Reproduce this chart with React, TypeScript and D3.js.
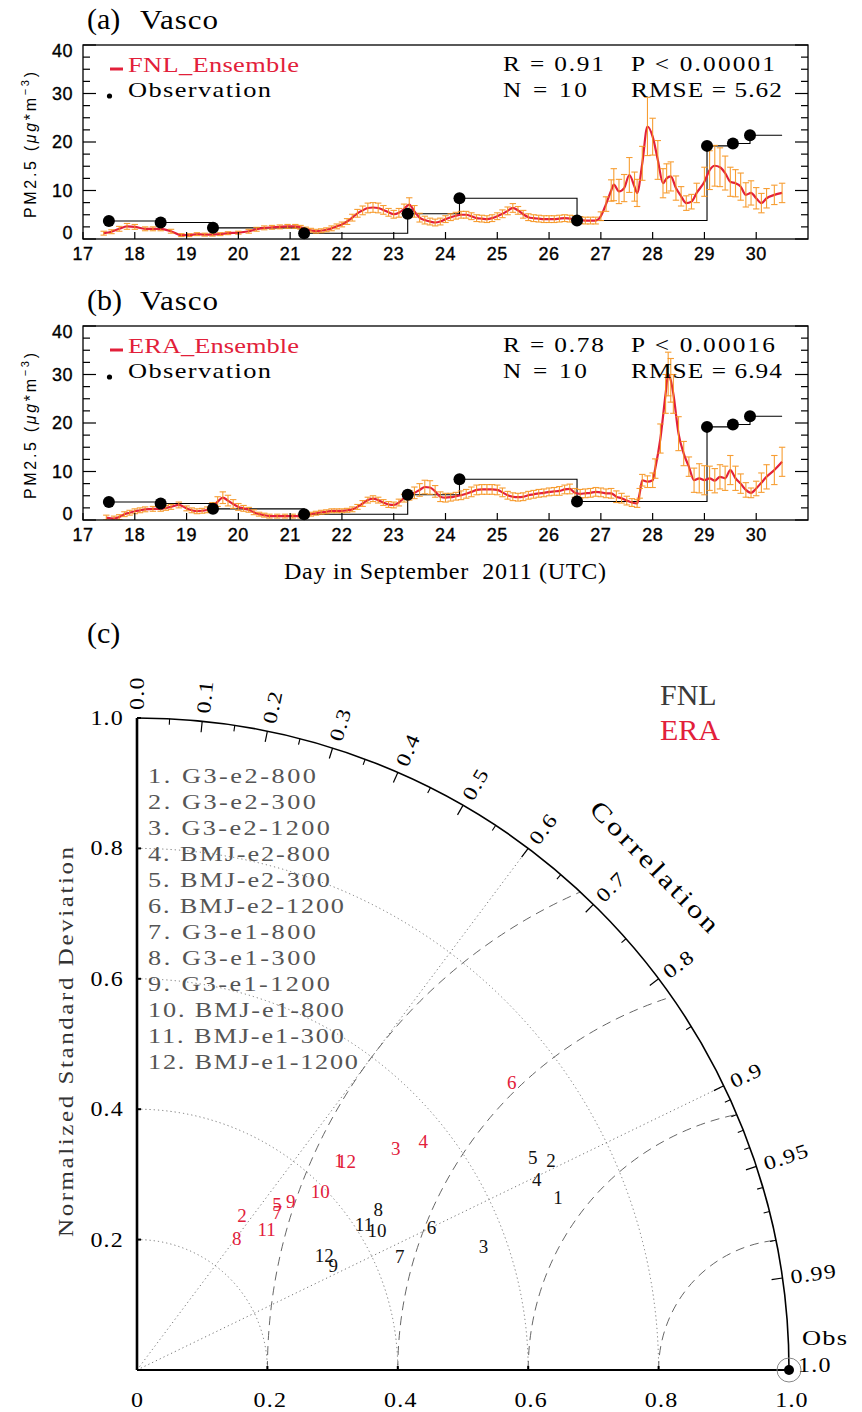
import React from "react";
import * as d3 from "d3";

// ---------------- Data: time series ----------------
const obsDays = [17.5, 18.5, 19.51, 21.27, 23.27, 24.27, 26.54, 29.05, 29.55, 29.88];
const obsValues = [3.7, 3.4, 2.3, 1.2, 5.2, 8.4, 3.8, 19.2, 19.7, 21.4];
const obsEndDay = 30.5;

const fnlDays = [17.4, 17.55, 17.7, 17.85, 18.0, 18.2, 18.35, 18.5, 18.7, 18.9, 19.05, 19.2, 19.35, 19.5, 19.65, 19.8, 20.0, 20.2, 20.35, 20.5, 20.65, 20.8, 20.95, 21.1, 21.2, 21.3, 21.4, 21.5, 21.6, 21.7, 21.8, 21.9, 22.0, 22.1, 22.2, 22.3, 22.4, 22.5, 22.6, 22.7, 22.8, 22.9, 23.0, 23.1, 23.2, 23.3, 23.4, 23.5, 23.6, 23.7, 23.8, 23.9, 24.0, 24.1, 24.2, 24.3, 24.4, 24.5, 24.6, 24.7, 24.8, 24.9, 25.0, 25.1, 25.2, 25.3, 25.4, 25.5, 25.6, 25.7, 25.8, 25.9, 26.0, 26.1, 26.2, 26.3, 26.4, 26.5, 26.6, 26.7, 26.8, 26.9, 27.0, 27.1, 27.2, 27.25, 27.35, 27.45, 27.55, 27.65, 27.7, 27.8, 27.9, 28.0, 28.1, 28.2, 28.27, 28.35, 28.45, 28.55, 28.65, 28.75, 28.85, 29.0, 29.1, 29.2, 29.3, 29.4, 29.5, 29.6, 29.7, 29.8, 29.9, 30.0, 30.1, 30.2, 30.35, 30.5];
const fnlValues = [1.2, 1.5, 2.1, 2.6, 2.5, 2.1, 2.1, 2.1, 1.6, 0.8, 0.8, 1.0, 0.9, 0.9, 1.0, 1.2, 1.3, 1.6, 2.0, 2.3, 2.4, 2.5, 2.6, 2.6, 2.4, 2.05, 1.8, 1.6, 1.7, 1.9, 2.2, 2.6, 3.0, 3.6, 4.4, 5.3, 5.9, 6.4, 6.5, 6.4, 6.0, 5.5, 5.1, 5.4, 6.2, 7.1, 5.7, 4.4, 3.9, 3.6, 3.4, 3.6, 4.1, 4.5, 4.8, 5.0, 5.0, 4.7, 4.3, 4.2, 4.1, 4.3, 4.7, 5.2, 5.8, 6.4, 5.9, 5.1, 4.5, 4.3, 4.2, 4.1, 4.1, 4.1, 4.2, 4.3, 4.2, 4.1, 3.9, 3.8, 3.8, 3.8, 4.7, 7.2, 10.0, 11.2, 9.8, 10.5, 13.2, 10.8, 9.5, 15.6, 23.2, 21.1, 16.3, 11.5, 12.5, 12.9, 10.5, 8.8, 7.4, 7.7, 9.5, 11.8, 14.2, 15.1, 14.8, 13.6, 11.8, 11.5, 10.8, 9.1, 9.5, 8.4, 7.4, 8.4, 9.1, 9.5];
const fnlErrors = [0.4, 0.4, 0.5, 0.6, 0.5, 0.4, 0.4, 0.4, 0.4, 0.3, 0.3, 0.3, 0.3, 0.3, 0.3, 0.3, 0.3, 0.4, 0.4, 0.4, 0.4, 0.4, 0.4, 0.4, 0.4, 0.4, 0.4, 0.4, 0.4, 0.4, 0.5, 0.5, 0.5, 0.6, 0.7, 0.8, 0.9, 1.0, 1.0, 1.0, 0.9, 0.8, 0.8, 0.9, 1.0, 1.4, 1.2, 0.9, 0.8, 0.7, 0.7, 0.7, 0.7, 0.7, 0.7, 0.7, 0.7, 0.7, 0.7, 0.7, 0.7, 0.7, 0.7, 0.8, 0.8, 0.9, 0.8, 0.8, 0.7, 0.7, 0.7, 0.7, 0.7, 0.7, 0.7, 0.7, 0.7, 0.7, 0.7, 0.7, 0.7, 0.7, 0.9, 1.5, 2.2, 3.3, 2.5, 2.8, 3.6, 3.0, 2.8, 3.5, 6.0, 3.8, 4.0, 3.0, 3.0, 3.0, 2.5, 2.0, 1.5, 1.5, 2.0, 3.0, 4.0, 4.2, 4.0, 3.5, 3.0, 2.8, 2.8, 2.5, 2.5, 2.2, 2.0, 2.0, 2.0, 2.0];

const eraDays = [17.45, 17.6, 17.7, 17.8, 17.9, 18.0, 18.1, 18.2, 18.35, 18.5, 18.6, 18.7, 18.85, 19.0, 19.1, 19.2, 19.3, 19.4, 19.5, 19.6, 19.7, 19.8, 19.9, 20.0, 20.1, 20.2, 20.3, 20.4, 20.5, 20.6, 20.75, 20.9, 21.05, 21.2, 21.3, 21.4, 21.5, 21.6, 21.7, 21.8, 21.9, 22.0, 22.1, 22.2, 22.3, 22.4, 22.5, 22.6, 22.7, 22.8, 22.9, 23.0, 23.1, 23.2, 23.3, 23.4, 23.5, 23.6, 23.7, 23.8, 23.9, 24.0, 24.1, 24.2, 24.3, 24.4, 24.5, 24.6, 24.7, 24.8, 24.9, 25.0, 25.1, 25.2, 25.3, 25.4, 25.5, 25.6, 25.7, 25.8, 25.9, 26.0, 26.1, 26.2, 26.3, 26.4, 26.5, 26.6, 26.7, 26.8, 26.9, 27.0, 27.1, 27.2, 27.3, 27.4, 27.5, 27.6, 27.7, 27.75, 27.8, 27.9, 28.0, 28.05, 28.15, 28.25, 28.3, 28.35, 28.4, 28.5, 28.6, 28.7, 28.8, 28.9, 29.0, 29.1, 29.2, 29.3, 29.4, 29.5, 29.6, 29.7, 29.8, 29.9, 30.0, 30.1, 30.2, 30.35, 30.5];
const eraValues = [0.5, 0.3, 0.6, 1.2, 1.5, 1.8, 2.0, 2.2, 2.3, 2.3, 2.5, 2.7, 3.1, 2.4, 2.0, 1.8, 1.9, 2.1, 2.8, 3.8, 4.6, 4.0, 3.3, 2.7, 2.4, 2.1, 1.6, 1.2, 1.0, 0.8, 0.8, 0.8, 0.8, 0.8, 1.0, 1.2, 1.4, 1.6, 1.7, 1.9, 1.9, 1.9, 2.0, 2.2, 2.7, 3.4, 4.1, 4.4, 4.1, 3.6, 3.2, 3.1, 3.6, 4.5, 5.1, 5.6, 6.2, 6.8, 6.7, 5.9, 4.8, 4.6, 4.7, 4.9, 5.1, 5.4, 5.8, 6.2, 6.3, 6.3, 6.3, 6.2, 5.7, 5.1, 4.8, 4.7, 4.8, 5.1, 5.3, 5.5, 5.6, 5.8, 5.9, 6.0, 6.3, 6.4, 5.6, 5.4, 5.5, 5.6, 5.8, 5.7, 5.5, 5.5, 4.8, 4.5, 4.0, 3.6, 3.4, 5.5, 8.2, 7.9, 8.2, 10.6, 16.8, 26.0, 30.1, 28.8, 26.0, 17.8, 13.7, 11.0, 8.2, 8.6, 8.2, 8.6, 8.1, 8.9, 8.6, 10.3, 8.6, 7.5, 6.2, 5.6, 6.5, 7.7, 8.9, 10.3, 12.0];
const eraErrors = [0.5, 0.5, 0.5, 0.5, 0.5, 0.5, 0.5, 0.5, 0.5, 0.5, 0.5, 0.5, 0.6, 0.5, 0.5, 0.5, 0.5, 0.6, 0.8, 1.0, 1.2, 1.1, 0.9, 0.7, 0.6, 0.5, 0.5, 0.4, 0.4, 0.4, 0.4, 0.4, 0.4, 0.4, 0.4, 0.4, 0.4, 0.4, 0.4, 0.4, 0.4, 0.4, 0.4, 0.5, 0.5, 0.6, 0.6, 0.6, 0.6, 0.6, 0.6, 0.6, 0.7, 0.8, 1.0, 1.2, 1.3, 1.4, 1.4, 1.2, 1.0, 0.9, 0.8, 0.8, 0.9, 0.9, 1.0, 1.0, 1.0, 1.0, 1.0, 1.0, 0.9, 0.8, 0.8, 0.8, 0.8, 0.8, 0.8, 0.8, 0.8, 0.8, 0.8, 0.9, 0.9, 1.0, 0.9, 0.9, 0.9, 0.9, 0.9, 0.9, 0.9, 1.0, 1.2, 1.0, 0.9, 0.8, 0.8, 1.0, 1.2, 1.2, 1.5, 2.0, 3.0, 4.0, 4.5, 4.5, 4.0, 3.5, 2.5, 2.0, 2.5, 3.0, 3.0, 2.5, 2.5, 2.5, 2.5, 3.0, 2.5, 2.0, 1.5, 1.0, 1.5, 2.0, 2.5, 3.0, 3.0];

const dayTicks = [17, 18, 19, 20, 21, 22, 23, 24, 25, 26, 27, 28, 29, 30];
const pmTicks = [0, 10, 20, 30, 40];

// ---------------- Data: Taylor diagram ----------------
const modelNames = ["G3-e2-800", "G3-e2-300", "G3-e2-1200", "BMJ-e2-800", "BMJ-e2-300", "BMJ-e2-1200", "G3-e1-800", "G3-e1-300", "G3-e1-1200", "BMJ-e1-800", "BMJ-e1-300", "BMJ-e1-1200"];
const fnlCorr = [0.925, 0.892, 0.942, 0.903, 0.881, 0.900, 0.918, 0.833, 0.883, 0.864, 0.841, 0.852];
const fnlStd = [0.698, 0.712, 0.564, 0.679, 0.689, 0.502, 0.439, 0.444, 0.341, 0.426, 0.414, 0.337];
const eraCorr = [0.693, 0.561, 0.759, 0.781, 0.645, 0.793, 0.664, 0.605, 0.674, 0.717, 0.679, 0.709];
const eraStd = [0.447, 0.287, 0.523, 0.562, 0.333, 0.725, 0.324, 0.253, 0.350, 0.392, 0.293, 0.453];
const corrMajor = [0.0, 0.1, 0.2, 0.3, 0.4, 0.5, 0.6, 0.7, 0.8, 0.9, 0.95, 0.99];
const corrMajorLabels = ["0.0", "0.1", "0.2", "0.3", "0.4", "0.5", "0.6", "0.7", "0.8", "0.9", "0.95", "0.99"];
const corrMinor = [0.05, 0.15, 0.25, 0.35, 0.45, 0.55, 0.65, 0.75, 0.85, 0.91, 0.92, 0.93, 0.94, 0.96, 0.97, 0.98];
const stdTicks = [0.2, 0.4, 0.6, 0.8, 1.0];
const stdTickLabels = ["0.2", "0.4", "0.6", "0.8", "1.0"];
const stdArcs = [0.2, 0.4, 0.6, 0.8];
const rmsArcs = [0.2, 0.4, 0.6, 0.8];
const corrLines = [0.6, 0.9];

const SERIF = "'Liberation Serif', 'Times New Roman', serif";
const SANS = "'Liberation Sans', Arial, sans-serif";
const RED = "#e2203a";
const ORANGE = "#f7941d";

// Wide "Hershey-like" serif text: glyphs stretched horizontally
type HProps = {
  x: number; y: number; size: number; sx?: number; len?: number; rotate?: number;
  anchor?: "start" | "middle" | "end"; fill?: string; dy?: string; ls?: number; children: React.ReactNode;
};
function HText({ x, y, size, sx = 1.2, len, rotate = 0, anchor = "start", fill = "#000", dy, ls, children }: HProps) {
  const extra: any = {};
  if (len) { extra.textLength = len / sx; extra.lengthAdjust = "spacing"; }
  return (
    <text transform={`translate(${x},${y}) rotate(${rotate}) scale(${sx},1)`} textAnchor={anchor} fill={fill} dy={dy}
      fontFamily={SERIF} fontSize={size} letterSpacing={ls} style={{ whiteSpace: "pre" }} {...extra}>
      {children}
    </text>
  );
}

type PanelProps = {
  y0: number; y1: number; tag: string; name: string;
  r: string; p: string; n: string; rmse: string;
  days: number[]; values: number[]; errors: number[]; id: string;
};

function TimePanel(props: PanelProps) {
  const { y0, y1, tag, name, r, p, n, rmse, days, values, errors, id } = props;
  const x0 = 83, x1 = 808;
  const x = d3.scaleLinear().domain([17, 31]).range([x0, x1]);
  const y = d3.scaleLinear().domain([0, 40]).range([y1, y0]);
  const modelLine = d3.line<number>().x((_, i) => x(days[i])).y((d) => y(d)).curve(d3.curveMonotoneX);
  const obsPts: [number, number][] = obsDays.map((d, i) => [d, obsValues[i]] as [number, number]);
  obsPts.push([obsEndDay, obsValues[obsValues.length - 1]]);
  const obsLine = d3.line<[number, number]>().x((d) => x(d[0])).y((d) => y(d[1])).curve(d3.curveStepAfter);
  const minor = d3.range(0, 40.001, 2.5);
  const mid = (y0 + y1) / 2;
  return (
    <g>
      <defs>
        <clipPath id={id}>
          <rect x={x0} y={y0} width={x1 - x0} height={y1 - y0} />
        </clipPath>
      </defs>
      <text x={87} y={y0 - 16} fontFamily={SERIF} fontSize={30}>{tag}</text>
      <HText x={140} y={y0 - 16} size={27} sx={1.15} len={78}>Vasco</HText>
      <path d={obsLine(obsPts) || ""} fill="none" stroke="#000" strokeWidth={1.1} />
      <g clipPath={`url(#${id})`}>
        <path d={modelLine(values) || ""} fill="none" stroke={RED} strokeWidth={2.2} />
        {values.map((v, i) => {
          const xx = x(days[i]);
          const ya = y(v - errors[i]);
          const yb = y(v + errors[i]);
          return (
            <g key={i} stroke={ORANGE} strokeWidth={1.1} opacity={0.9}>
              <line x1={xx} x2={xx} y1={ya} y2={yb} />
              <line x1={xx - 3.2} x2={xx + 3.2} y1={ya} y2={ya} />
              <line x1={xx - 3.2} x2={xx + 3.2} y1={yb} y2={yb} />
            </g>
          );
        })}
      </g>
      {obsDays.map((d, i) => (
        <circle key={i} cx={x(d)} cy={y(obsValues[i])} r={6} fill="#000" />
      ))}
      <rect x={x0} y={y0} width={x1 - x0} height={y1 - y0} fill="none" stroke="#000" strokeWidth={1.3} />
      {minor.map((v) => {
        const len = v % 10 === 0 ? 13 : 7;
        return (
          <g key={v} stroke="#000" strokeWidth={1.2}>
            <line x1={x0} x2={x0 + len} y1={y(v)} y2={y(v)} />
            <line x1={x1} x2={x1 - len} y1={y(v)} y2={y(v)} />
          </g>
        );
      })}
      {pmTicks.map((v) => (
        <text key={v} x={73} y={Math.max(y0 + 6, Math.min(y1 - 6, y(v)))} dy="0.36em" textAnchor="end" fontFamily={SANS} fontSize={18} letterSpacing={0.5} stroke="#000" strokeWidth={0.35}>{v}</text>
      ))}
      {dayTicks.map((d) => (
        <g key={d}>
          <line x1={x(d)} x2={x(d)} y1={y1} y2={y1 - 7} stroke="#000" strokeWidth={1.2} />
          <text x={x(d)} y={y1 + 21} textAnchor="middle" fontFamily={SANS} fontSize={18} letterSpacing={0.5} stroke="#000" strokeWidth={0.35}>{d}</text>
        </g>
      ))}
      <text transform={`translate(36,${mid + 3}) rotate(-90)`} textAnchor="middle" fontFamily={SANS} fontSize={16} textLength={146} lengthAdjust="spacing">
        <tspan>PM2.5</tspan>
        <tspan> (</tspan>
        <tspan fontStyle="italic">μg</tspan>
        <tspan>*m</tspan>
        <tspan fontSize={11} dy={-7}>−3</tspan>
        <tspan dy={7}>)</tspan>
      </text>
      {/* legend */}
      <line x1={110} x2={123} y1={y0 + 24} y2={y0 + 24} stroke={RED} strokeWidth={3} />
      <HText x={128} y={y0 + 27} size={22} sx={1.2} len={171} fill={RED}>{name}</HText>
      <circle cx={109.5} cy={y0 + 51} r={2.6} fill="#000" />
      <HText x={128} y={y0 + 52} size={22} sx={1.2} len={143}>Observation</HText>
      {/* stats */}
      <HText x={503} y={y0 + 26} size={22} sx={1.15} len={101}>{`R = ${r}`}</HText>
      <HText x={631} y={y0 + 26} size={22} sx={1.15} len={144}>{`P < ${p}`}</HText>
      <HText x={503} y={y0 + 52} size={22} sx={1.15} len={84}>{`N = ${n}`}</HText>
      <HText x={631} y={y0 + 52} size={22} sx={1.15} len={151}>{`RMSE = ${rmse}`}</HText>
    </g>
  );
}

function Taylor() {
  const ox = 137, oy = 1370;
  const rs = d3.scaleLinear().domain([0, 1]).range([0, 652]);
  const R = rs(1);
  const px = (c: number, s: number) => ox + rs(s) * c;
  const py = (c: number, s: number) => oy - rs(s) * Math.sqrt(Math.max(0, 1 - c * c));

  const stdArcPath = (s: number) => {
    const p = d3.path();
    p.moveTo(ox, oy - rs(s));
    p.arc(ox, oy, rs(s), -Math.PI / 2, 0, false);
    return p.toString();
  };
  const rmsArcPath = (r: number) => {
    const cx = ox + R, cy = oy;
    const xi = 1 - (r * r) / 2;
    const yi = Math.sqrt(1 - xi * xi);
    const end = Math.atan2(-rs(yi), rs(xi - 1)) + 2 * Math.PI;
    const p = d3.path();
    p.moveTo(cx - rs(r), cy);
    p.arc(cx, cy, rs(r), Math.PI, end, false);
    return p.toString();
  };
  const outer = d3.path();
  outer.moveTo(ox, oy - R);
  outer.arc(ox, oy, R, -Math.PI / 2, 0, false);
  const corrAngle = (44.2 * Math.PI) / 180;

  return (
    <g>
      <text x={87} y={643} fontFamily={SERIF} fontSize={30}>(c)</text>
      <text x={660} y={705} fontFamily={SERIF} fontSize={30} fill="#3a3a3a">FNL</text>
      <text x={660} y={740} fontFamily={SERIF} fontSize={30} fill={RED}>ERA</text>

      {stdArcs.map((s) => (
        <path key={"s" + s} d={stdArcPath(s)} fill="none" stroke="#666" strokeWidth={0.9} strokeDasharray="1.2,3" />
      ))}
      {rmsArcs.map((r) => (
        <path key={"r" + r} d={rmsArcPath(r)} fill="none" stroke="#555" strokeWidth={0.9} strokeDasharray="9,6" />
      ))}
      {corrLines.map((c) => (
        <line key={"c" + c} x1={ox} y1={oy} x2={px(c, 1)} y2={py(c, 1)} stroke="#666" strokeWidth={0.9} strokeDasharray="1.2,3" />
      ))}

      <path d={outer.toString()} fill="none" stroke="#000" strokeWidth={1.6} />
      <line x1={ox} x2={ox} y1={oy - R} y2={oy} stroke="#000" strokeWidth={2.6} />
      <line x1={ox} x2={ox + R} y1={oy} y2={oy} stroke="#000" strokeWidth={2.2} />

      {corrMajor.map((c, i) => {
        const deg = (Math.acos(c) * 180) / Math.PI;
        return (
          <g key={"cm" + c}>
            <line x1={px(c, 1)} y1={py(c, 1)} x2={px(c, 1 - 11 / R)} y2={py(c, 1 - 11 / R)} stroke="#000" strokeWidth={1.2} />
            <HText x={px(c, 1 + 8 / R)} y={py(c, 1 + 8 / R)} rotate={-deg} dy="0.35em" size={20} sx={1.2} ls={1}>{corrMajorLabels[i]}</HText>
          </g>
        );
      })}
      {corrMinor.map((c) => (
        <line key={"cn" + c} x1={px(c, 1)} y1={py(c, 1)} x2={px(c, 1 - 6 / R)} y2={py(c, 1 - 6 / R)} stroke="#000" strokeWidth={1.1} />
      ))}
      <HText x={ox + 1.108 * R * Math.cos(corrAngle)} y={oy - 1.108 * R * Math.sin(corrAngle)} rotate={45.8} anchor="middle" dy="0.35em" size={25} sx={1.25} len={173}>Correlation</HText>

      {stdTicks.map((s, i) => (
        <g key={"st" + s}>
          <line x1={ox} x2={ox + 4} y1={oy - rs(s)} y2={oy - rs(s)} stroke="#000" strokeWidth={2} />
          <line x1={ox + rs(s)} x2={ox + rs(s)} y1={oy} y2={oy - 4} stroke="#000" strokeWidth={2} />
          <HText x={124} y={oy - rs(s)} dy="0.35em" anchor="end" size={20} sx={1.2} ls={1}>{stdTickLabels[i]}</HText>
          <HText x={ox + rs(s) + 3} y={1407} anchor="middle" size={20} sx={1.2} ls={1}>{stdTickLabels[i]}</HText>
        </g>
      ))}
      <HText x={ox} y={1407} anchor="middle" size={20} sx={1.2}>0</HText>
      <HText x={73} y={1042} rotate={-90} anchor="middle" size={20} sx={1.25} len={390} fill="#333">Normalized Standard Deviation</HText>

      {modelNames.map((m, i) => {
        const label = `${i + 1}. ${m}`;
        return (
          <HText key={"lg" + i} x={148} y={783 + i * 26} size={21} sx={1.25} len={label.length * 14} fill="#555">{label}</HText>
        );
      })}

      {fnlCorr.map((c, i) => (
        <text key={"f" + i} x={px(c, fnlStd[i])} y={py(c, fnlStd[i])} dy="0.35em" textAnchor="middle" fontFamily={SERIF} fontSize={19} fill="#111">{i + 1}</text>
      ))}
      {eraCorr.map((c, i) => (
        <text key={"e" + i} x={px(c, eraStd[i])} y={py(c, eraStd[i])} dy="0.35em" textAnchor="middle" fontFamily={SERIF} fontSize={19} fill={RED}>{i + 1}</text>
      ))}

      <circle cx={ox + R} cy={oy} r={12} fill="none" stroke="#888" strokeWidth={1} />
      <circle cx={ox + R} cy={oy} r={5} fill="#000" />
      <HText x={802} y={1345} size={22} sx={1.2} ls={1}>Obs</HText>
      <HText x={798} y={1372} size={20} sx={1.2} ls={1}>1.0</HText>
    </g>
  );
}

export default function App() {
  return (
    <svg width={862} height={1412} viewBox="0 0 862 1412" style={{ position: "absolute", left: 0, top: 0, background: "#fff" }}>
      <rect x={0} y={0} width={862} height={1412} fill="#fff" />
      <TimePanel y0={45} y1={239} tag="(a)" name="FNL_Ensemble" r="0.91" p="0.00001" n="10" rmse="5.62" days={fnlDays} values={fnlValues} errors={fnlErrors} id="clipA" />
      <TimePanel y0={326} y1={520} tag="(b)" name="ERA_Ensemble" r="0.78" p="0.00016" n="10" rmse="6.94" days={eraDays} values={eraValues} errors={eraErrors} id="clipB" />
      <text x={284} y={579} fontFamily={SERIF} fontSize={24} textLength={322} lengthAdjust="spacing" style={{ whiteSpace: "pre" }}>Day in September  2011 (UTC)</text>
      <Taylor />
    </svg>
  );
}
